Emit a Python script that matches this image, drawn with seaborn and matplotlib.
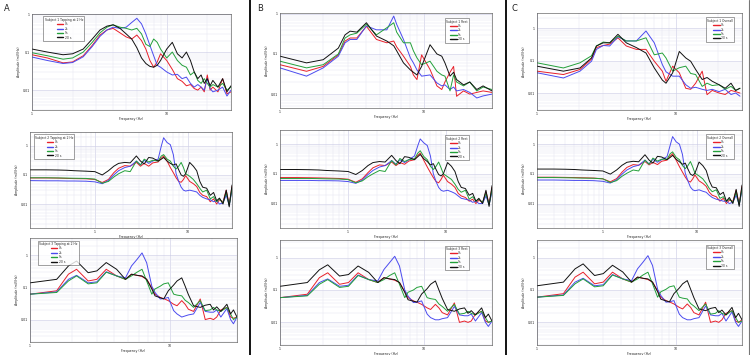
import matplotlib
matplotlib.use("Agg")
import matplotlib.pyplot as plt
import matplotlib.ticker as mticker
from matplotlib.lines import Line2D
import seaborn as sns

# frequency grids (Hz)
freq_a1 = [1, 1.3, 1.7, 2, 2.4, 2.8, 3.2, 3.6, 4, 4.5, 5, 5.5, 6, 6.5, 7, 7.5, 8, 8.5, 9, 10,
           11, 12, 13, 14, 15, 16, 17, 18, 19, 20, 21, 22, 24, 26, 28, 30]
freq_mid = [0.2, 0.3, 0.4, 0.5, 0.6, 0.8, 1.0, 1.2, 1.4, 1.6, 1.8, 2.1, 2.4, 2.8, 3.1, 3.4, 3.8,
            4.2, 4.8, 5.2, 5.5, 6.0, 6.5, 7.0, 7.5, 8.0, 8.5, 9.0, 9.5, 10.5, 11.5, 12.5, 13.5,
            14.5, 16, 17.5, 19, 20.5, 22, 24, 26, 28, 30]
freq_low = [1, 1.55, 1.88, 2.15, 2.6, 3.0, 3.5, 4.15, 4.8, 5.3, 5.8, 6.3, 6.8, 7.4, 7.8, 8.5,
            9.0, 9.7, 10.6, 11.2, 12.1, 12.8, 13.5, 14.7, 16.4, 17.8, 19.3, 20.4, 21.5, 23,
            25.4, 27, 28.3, 30]
freq_b1 = [1, 1.53, 2.0, 2.55, 2.84, 3.08, 3.43, 4.0, 4.7, 5.55, 6.2, 6.5, 7.25, 8.1, 8.5, 9.0,
           9.7, 11.1, 12.4, 13.4, 14.1, 15.3, 16.2, 17, 19, 21, 23.5, 26, 30]
freq_c1 = [1, 1.55, 2.04, 2.47, 2.68, 3.0, 3.34, 3.83, 4.4, 5.2, 6.1, 7.0, 8.0, 8.5, 9.5, 10.6,
           11.8, 12.8, 13.9, 15.5, 16.8, 18.3, 20.5, 22.7, 25, 27, 29]

# column A - tapping
a1_red = [0.085, 0.07, 0.052, 0.055, 0.08, 0.15, 0.28, 0.38, 0.42, 0.32, 0.25, 0.22, 0.28, 0.2, 0.12, 0.06, 0.04, 0.055, 0.09, 0.06,
          0.035, 0.02, 0.017, 0.013, 0.014, 0.011, 0.01, 0.012, 0.009, 0.025, 0.01, 0.012, 0.009, 0.02, 0.008, 0.009]
a1_blue = [0.074, 0.06, 0.05, 0.053, 0.075, 0.14, 0.26, 0.38, 0.45, 0.42, 0.45, 0.6, 0.77, 0.55, 0.3, 0.15, 0.08, 0.045, 0.04, 0.03,
           0.025, 0.026, 0.02, 0.022, 0.015, 0.012, 0.014, 0.012, 0.01, 0.02, 0.011, 0.009, 0.01, 0.012, 0.007, 0.01]
a1_green = [0.096, 0.08, 0.065, 0.07, 0.1, 0.18, 0.32, 0.45, 0.52, 0.45, 0.42, 0.38, 0.42, 0.3, 0.16, 0.14, 0.22, 0.18, 0.12, 0.07,
            0.1, 0.06, 0.045, 0.04, 0.025, 0.03, 0.018, 0.015, 0.02, 0.015, 0.012, 0.014, 0.012, 0.015, 0.01, 0.012]
a1_black = [0.12, 0.1, 0.085, 0.09, 0.12, 0.22, 0.38, 0.48, 0.52, 0.42, 0.3, 0.22, 0.13, 0.07, 0.05, 0.042, 0.04, 0.045, 0.06, 0.12,
            0.18, 0.09, 0.07, 0.1, 0.06, 0.03, 0.02, 0.025, 0.015, 0.02, 0.013, 0.018, 0.012, 0.02, 0.009, 0.013]

a2_red = [0.079, 0.079, 0.078, 0.076, 0.075, 0.074, 0.07, 0.055, 0.07, 0.12, 0.17, 0.21, 0.2, 0.27, 0.2, 0.25, 0.2, 0.26, 0.28, 0.38, 0.45,
          0.3, 0.18, 0.12, 0.08, 0.06, 0.056, 0.07, 0.095, 0.06, 0.05, 0.04, 0.025, 0.02, 0.018, 0.012, 0.015, 0.01, 0.014, 0.012, 0.03, 0.01, 0.04]
a2_blue = [0.064, 0.063, 0.063, 0.062, 0.062, 0.061, 0.058, 0.05, 0.065, 0.1, 0.14, 0.18, 0.2, 0.3, 0.22, 0.32, 0.25, 0.3, 0.35, 1.0, 1.9,
           1.3, 1.1, 0.5, 0.11, 0.06, 0.038, 0.03, 0.028, 0.03, 0.028, 0.026, 0.02, 0.017, 0.015, 0.014, 0.012, 0.013, 0.01, 0.011, 0.02, 0.009, 0.03]
a2_green = [0.08, 0.08, 0.079, 0.078, 0.077, 0.076, 0.072, 0.052, 0.06, 0.085, 0.11, 0.14, 0.13, 0.3, 0.22, 0.35, 0.28, 0.32, 0.3, 0.45, 0.5,
            0.35, 0.3, 0.2, 0.16, 0.2, 0.27, 0.18, 0.11, 0.09, 0.07, 0.05, 0.035, 0.026, 0.03, 0.015, 0.018, 0.012, 0.015, 0.011, 0.025, 0.009, 0.035]
a2_black = [0.15, 0.15, 0.148, 0.145, 0.14, 0.135, 0.13, 0.1, 0.14, 0.2, 0.25, 0.27, 0.26, 0.45, 0.3, 0.24, 0.4, 0.38, 0.3, 0.35, 0.4,
            0.3, 0.25, 0.22, 0.24, 0.15, 0.1, 0.09, 0.11, 0.27, 0.2, 0.14, 0.06, 0.038, 0.035, 0.02, 0.025, 0.013, 0.016, 0.01, 0.03, 0.008, 0.045]

a3_red = [0.062, 0.079, 0.26, 0.37, 0.16, 0.18, 0.37, 0.23, 0.18, 0.26, 0.24, 0.22, 0.18, 0.1, 0.062, 0.049, 0.045,
          0.039, 0.03, 0.027, 0.039, 0.03, 0.021, 0.018, 0.044, 0.01, 0.011, 0.01, 0.012, 0.02, 0.024, 0.012, 0.011, 0.012]
a3_blue = [0.062, 0.073, 0.18, 0.24, 0.14, 0.15, 0.31, 0.23, 0.2, 0.47, 0.75, 1.2, 0.59, 0.11, 0.07, 0.044, 0.045,
           0.049, 0.019, 0.015, 0.012, 0.013, 0.014, 0.015, 0.034, 0.018, 0.017, 0.017, 0.02, 0.012, 0.022, 0.01, 0.0074, 0.012]
a3_green = [0.062, 0.07, 0.16, 0.23, 0.13, 0.14, 0.3, 0.23, 0.18, 0.23, 0.3, 0.37, 0.16, 0.062, 0.09, 0.11, 0.13,
            0.14, 0.062, 0.058, 0.055, 0.04, 0.034, 0.024, 0.039, 0.019, 0.02, 0.024, 0.02, 0.018, 0.024, 0.015, 0.01, 0.012]
a3_black = [0.14, 0.18, 0.47, 0.67, 0.29, 0.33, 0.6, 0.37, 0.18, 0.26, 0.24, 0.23, 0.18, 0.09, 0.055, 0.048, 0.044,
            0.079, 0.12, 0.16, 0.2, 0.11, 0.06, 0.027, 0.024, 0.028, 0.03, 0.02, 0.025, 0.018, 0.03, 0.015, 0.02, 0.012]

# column B - rest
b1_red = [0.054, 0.037, 0.049, 0.095, 0.21, 0.25, 0.25, 0.49, 0.23, 0.19, 0.21, 0.15, 0.088, 0.049, 0.03,
          0.023, 0.095, 0.041, 0.016, 0.013, 0.02, 0.035, 0.049, 0.0088, 0.012, 0.01, 0.011, 0.012, 0.011]
b1_blue = [0.045, 0.028, 0.045, 0.088, 0.19, 0.23, 0.23, 0.5, 0.4, 0.4, 0.88, 0.55, 0.23, 0.08, 0.06,
           0.04, 0.028, 0.03, 0.019, 0.016, 0.017, 0.013, 0.015, 0.012, 0.013, 0.011, 0.008, 0.009, 0.01]
b1_green = [0.066, 0.045, 0.054, 0.1, 0.25, 0.3, 0.33, 0.55, 0.3, 0.45, 0.6, 0.35, 0.19, 0.19, 0.12,
            0.08, 0.054, 0.066, 0.037, 0.03, 0.028, 0.012, 0.03, 0.02, 0.016, 0.02, 0.012, 0.015, 0.013]
b1_black = [0.088, 0.06, 0.072, 0.14, 0.3, 0.37, 0.35, 0.6, 0.28, 0.21, 0.16, 0.12, 0.06, 0.04, 0.035,
            0.03, 0.049, 0.17, 0.1, 0.088, 0.06, 0.028, 0.035, 0.023, 0.017, 0.02, 0.013, 0.016, 0.012]

b2_red = [0.075, 0.075, 0.074, 0.073, 0.072, 0.07, 0.066, 0.052, 0.068, 0.11, 0.16, 0.2, 0.19, 0.25, 0.19, 0.24, 0.21, 0.27, 0.3, 0.42, 0.5,
          0.28, 0.17, 0.11, 0.075, 0.055, 0.05, 0.065, 0.09, 0.055, 0.045, 0.035, 0.022, 0.018, 0.016, 0.012, 0.014, 0.01, 0.013, 0.011, 0.025, 0.01, 0.035]
b2_blue = [0.06, 0.06, 0.06, 0.059, 0.059, 0.058, 0.055, 0.048, 0.062, 0.095, 0.13, 0.17, 0.19, 0.28, 0.21, 0.3, 0.24, 0.3, 0.4, 0.9, 1.5,
           1.1, 0.9, 0.4, 0.1, 0.055, 0.035, 0.028, 0.026, 0.028, 0.025, 0.022, 0.018, 0.015, 0.014, 0.013, 0.011, 0.012, 0.01, 0.01, 0.018, 0.009, 0.025]
b2_green = [0.07, 0.07, 0.07, 0.069, 0.068, 0.067, 0.064, 0.05, 0.058, 0.08, 0.1, 0.13, 0.12, 0.28, 0.2, 0.33, 0.26, 0.3, 0.32, 0.5, 0.6,
            0.38, 0.3, 0.18, 0.14, 0.18, 0.25, 0.16, 0.1, 0.08, 0.065, 0.045, 0.03, 0.024, 0.028, 0.014, 0.017, 0.012, 0.014, 0.011, 0.022, 0.009, 0.03]
b2_black = [0.14, 0.14, 0.138, 0.135, 0.13, 0.125, 0.12, 0.095, 0.13, 0.19, 0.24, 0.26, 0.25, 0.42, 0.28, 0.22, 0.38, 0.36, 0.3, 0.38, 0.45,
            0.32, 0.26, 0.2, 0.22, 0.14, 0.095, 0.085, 0.1, 0.24, 0.18, 0.12, 0.055, 0.035, 0.032, 0.019, 0.022, 0.012, 0.015, 0.01, 0.028, 0.008, 0.04]

b3_red = [0.058, 0.074, 0.24, 0.34, 0.15, 0.17, 0.34, 0.21, 0.17, 0.24, 0.22, 0.2, 0.17, 0.09, 0.058, 0.046, 0.042,
          0.036, 0.028, 0.025, 0.036, 0.028, 0.02, 0.017, 0.04, 0.01, 0.011, 0.01, 0.011, 0.018, 0.022, 0.011, 0.01, 0.011]
b3_blue = [0.058, 0.068, 0.17, 0.22, 0.13, 0.14, 0.29, 0.21, 0.19, 0.43, 0.7, 1.1, 0.55, 0.1, 0.065, 0.041, 0.042,
           0.046, 0.018, 0.014, 0.012, 0.012, 0.013, 0.014, 0.031, 0.017, 0.016, 0.016, 0.018, 0.011, 0.02, 0.01, 0.0075, 0.011]
b3_green = [0.058, 0.066, 0.15, 0.21, 0.12, 0.13, 0.28, 0.21, 0.17, 0.21, 0.28, 0.34, 0.15, 0.058, 0.085, 0.1, 0.12,
            0.13, 0.058, 0.054, 0.051, 0.037, 0.031, 0.022, 0.036, 0.018, 0.019, 0.022, 0.019, 0.017, 0.022, 0.014, 0.01, 0.011]
b3_black = [0.13, 0.17, 0.42, 0.6, 0.27, 0.3, 0.55, 0.35, 0.17, 0.24, 0.22, 0.21, 0.17, 0.085, 0.05, 0.045, 0.042,
            0.075, 0.11, 0.15, 0.19, 0.1, 0.055, 0.025, 0.022, 0.026, 0.028, 0.019, 0.023, 0.017, 0.028, 0.014, 0.018, 0.011]

# column C - overall
c1_red = [0.047, 0.037, 0.053, 0.11, 0.25, 0.29, 0.32, 0.5, 0.28, 0.22, 0.22, 0.095, 0.047, 0.023,
          0.067, 0.042, 0.014, 0.013, 0.02, 0.047, 0.0089, 0.012, 0.01, 0.009, 0.012, 0.011, 0.01]
c1_blue = [0.042, 0.029, 0.047, 0.095, 0.22, 0.29, 0.28, 0.54, 0.4, 0.4, 0.81, 0.35, 0.075, 0.045,
           0.033, 0.033, 0.018, 0.014, 0.015, 0.013, 0.012, 0.013, 0.011, 0.013, 0.009, 0.01, 0.008]
c1_green = [0.085, 0.059, 0.085, 0.14, 0.28, 0.37, 0.35, 0.56, 0.4, 0.4, 0.5, 0.15, 0.17, 0.12,
            0.047, 0.06, 0.067, 0.04, 0.037, 0.016, 0.02, 0.017, 0.018, 0.013, 0.016, 0.012, 0.014]
c1_black = [0.067, 0.047, 0.059, 0.12, 0.28, 0.35, 0.35, 0.64, 0.35, 0.25, 0.17, 0.059, 0.025, 0.02,
            0.042, 0.19, 0.12, 0.095, 0.053, 0.026, 0.03, 0.023, 0.018, 0.014, 0.02, 0.012, 0.014]

c2_red = [0.077, 0.077, 0.076, 0.075, 0.074, 0.072, 0.068, 0.054, 0.069, 0.115, 0.165, 0.205, 0.195, 0.26, 0.2, 0.245, 0.205, 0.265, 0.29, 0.4, 0.48,
          0.29, 0.175, 0.115, 0.078, 0.058, 0.053, 0.068, 0.092, 0.058, 0.048, 0.038, 0.024, 0.019, 0.017, 0.012, 0.015, 0.01, 0.013, 0.012, 0.028, 0.01, 0.038]
c2_blue = [0.062, 0.062, 0.061, 0.06, 0.06, 0.059, 0.056, 0.049, 0.063, 0.098, 0.135, 0.175, 0.195, 0.29, 0.215, 0.31, 0.245, 0.3, 0.38, 0.95, 1.8,
           1.2, 1.0, 0.45, 0.105, 0.058, 0.036, 0.029, 0.027, 0.029, 0.026, 0.024, 0.019, 0.016, 0.014, 0.013, 0.012, 0.012, 0.01, 0.011, 0.019, 0.009, 0.028]
c2_green = [0.075, 0.075, 0.074, 0.073, 0.072, 0.071, 0.068, 0.051, 0.059, 0.083, 0.105, 0.135, 0.125, 0.29, 0.21, 0.34, 0.27, 0.31, 0.31, 0.48, 0.55,
            0.36, 0.3, 0.19, 0.15, 0.19, 0.26, 0.17, 0.105, 0.085, 0.068, 0.048, 0.032, 0.025, 0.029, 0.015, 0.017, 0.012, 0.014, 0.011, 0.024, 0.009, 0.032]
c2_black = [0.145, 0.145, 0.143, 0.14, 0.135, 0.13, 0.125, 0.098, 0.135, 0.195, 0.245, 0.265, 0.255, 0.44, 0.29, 0.23, 0.39, 0.37, 0.3, 0.36, 0.42,
            0.31, 0.255, 0.21, 0.23, 0.145, 0.098, 0.088, 0.105, 0.25, 0.19, 0.13, 0.058, 0.036, 0.034, 0.02, 0.024, 0.012, 0.016, 0.01, 0.03, 0.008, 0.042]

c3_red = [0.06, 0.077, 0.25, 0.355, 0.155, 0.175, 0.355, 0.22, 0.175, 0.25, 0.23, 0.21, 0.175, 0.095, 0.06, 0.047, 0.043,
          0.037, 0.029, 0.026, 0.037, 0.029, 0.02, 0.017, 0.042, 0.01, 0.011, 0.01, 0.012, 0.019, 0.023, 0.011, 0.01, 0.012]
c3_blue = [0.06, 0.07, 0.175, 0.23, 0.135, 0.145, 0.3, 0.22, 0.195, 0.45, 0.72, 1.15, 0.57, 0.105, 0.068, 0.042, 0.043,
           0.047, 0.018, 0.014, 0.012, 0.012, 0.013, 0.014, 0.032, 0.017, 0.016, 0.016, 0.019, 0.011, 0.021, 0.01, 0.0075, 0.011]
c3_green = [0.06, 0.068, 0.155, 0.22, 0.125, 0.135, 0.29, 0.22, 0.175, 0.22, 0.29, 0.355, 0.155, 0.06, 0.088, 0.105, 0.125,
            0.135, 0.06, 0.056, 0.053, 0.038, 0.032, 0.023, 0.037, 0.018, 0.019, 0.023, 0.019, 0.017, 0.023, 0.014, 0.01, 0.011]
c3_black = [0.135, 0.175, 0.45, 0.64, 0.28, 0.32, 0.58, 0.36, 0.175, 0.25, 0.23, 0.22, 0.175, 0.088, 0.052, 0.046, 0.043,
            0.077, 0.115, 0.155, 0.195, 0.105, 0.058, 0.026, 0.023, 0.027, 0.029, 0.02, 0.024, 0.017, 0.029, 0.014, 0.019, 0.012]

series_labels = ["0s", "2s", "5s", "20 s"]
series_colors = ["#e8202a", "#4b4bef", "#23a03a", "#111111"]

sns.set_style("white")
plt.rcParams['font.family'] = ['DejaVu Sans']

fig = plt.figure(figsize=(7.5, 3.55), dpi=100)

W, H = 750.0, 355.0


def make_ax(x0, y0, x1, y1):
    return fig.add_axes([x0 / W, 1 - y1 / H, (x1 - x0) / W, (y1 - y0) / H])


def fmt(v, pos):
    if v >= 1:
        return "%d" % round(v)
    return ("%.3f" % v).rstrip("0")


def draw(ax, freq, lines, title, xlim, ylim, legend_loc, legend_anchor):
    for vals, lab, col in zip(lines, series_labels, series_colors):
        sns.lineplot(x=freq, y=vals, ax=ax, color=col, lw=0.7, label=lab)
    ax.set_xscale("log")
    ax.set_yscale("log")
    ax.set_xlim(*xlim)
    ax.set_ylim(*ylim)
    ax.xaxis.set_major_locator(mticker.LogLocator(base=10))
    ax.yaxis.set_major_locator(mticker.LogLocator(base=10))
    ax.xaxis.set_minor_locator(mticker.LogLocator(base=10, subs=range(2, 10)))
    ax.yaxis.set_minor_locator(mticker.LogLocator(base=10, subs=range(2, 10)))
    ax.xaxis.set_major_formatter(mticker.FuncFormatter(fmt))
    ax.yaxis.set_major_formatter(mticker.FuncFormatter(fmt))
    ax.xaxis.set_minor_formatter(mticker.NullFormatter())
    ax.yaxis.set_minor_formatter(mticker.NullFormatter())
    ax.grid(True, which="major", color="#c9c9e4", lw=0.4)
    ax.grid(True, which="minor", color="#e2e2f0", lw=0.3)
    ax.tick_params(which="both", direction="in", labelsize=2.3, length=1.5, width=0.3, pad=1.5)
    ax.tick_params(which="minor", length=1)
    for s in ax.spines.values():
        s.set_linewidth(0.4)
        s.set_color("#444444")
    ax.set_xlabel("Frequency (Hz)", fontsize=2.3, labelpad=1)
    ax.set_ylabel("Amplitude (mV/Hz)", fontsize=2.3, labelpad=1)
    leg = ax.legend(title=title, loc=legend_loc, bbox_to_anchor=legend_anchor, fontsize=2.2,
                    title_fontsize=2.2, frameon=True, fancybox=False, edgecolor="#333333",
                    handlelength=2.2, borderpad=0.4, labelspacing=0.15, handletextpad=0.5)
    leg.get_frame().set_linewidth(0.4)
    for h in leg.get_lines():
        h.set_linewidth(1.0)


# column A
ax = make_ax(32, 14, 231, 110)
draw(ax, freq_a1, [a1_red, a1_blue, a1_green, a1_black], "Subject 1 Tapping at 2 Hz",
     (1, 30), (0.003, 1), "upper left", (0.05, 0.99))
ax = make_ax(30, 132, 232, 228)
draw(ax, freq_mid, [a2_red, a2_blue, a2_green, a2_black], "Subject 2 Tapping at 2 Hz",
     (0.2, 30), (0.0015, 3), "upper left", (0.01, 0.99))
ax = make_ax(30, 238, 237, 342)
draw(ax, freq_low, [a3_red, a3_blue, a3_green, a3_black], "Subject 3 Tapping at 2 Hz",
     (1, 30), (0.002, 3.5), "upper left", (0.03, 0.99))

# column B
ax = make_ax(280, 13, 492, 108)
draw(ax, freq_b1, [b1_red, b1_blue, b1_green, b1_black], "Subject 1 Rest",
     (1, 30), (0.0045, 1.05), "upper right", (0.9, 0.96))
ax = make_ax(280, 130, 492, 228)
draw(ax, freq_mid, [b2_red, b2_blue, b2_green, b2_black], "Subject 2 Rest",
     (0.2, 30), (0.0015, 3), "upper right", (0.9, 0.96))
ax = make_ax(280, 240, 492, 345)
draw(ax, freq_low, [b3_red, b3_blue, b3_green, b3_black], "Subject 3 Rest",
     (1, 30), (0.002, 3.5), "upper right", (0.9, 0.96))

# column C
ax = make_ax(537, 13, 742, 110)
draw(ax, freq_c1, [c1_red, c1_blue, c1_green, c1_black], "Subject 1 Overall",
     (1, 30), (0.003, 2.9), "upper right", (0.97, 0.97))
ax = make_ax(537, 130, 742, 228)
draw(ax, freq_mid, [c2_red, c2_blue, c2_green, c2_black], "Subject 2 Overall",
     (0.2, 30), (0.0015, 3), "upper right", (0.97, 0.97))
ax = make_ax(537, 240, 742, 345)
draw(ax, freq_low, [c3_red, c3_blue, c3_green, c3_black], "Subject 3 Overall",
     (1, 30), (0.002, 3.5), "upper right", (0.97, 0.97))

# panel letters and separators
for xp, letter in [(4, "A"), (257, "B"), (512, "C")]:
    fig.text(xp / W, 1 - 11 / H, letter, fontsize=6, color="#222222")
for xp in [250, 506]:
    fig.add_artist(Line2D([xp / W, xp / W], [0, 1], transform=fig.transFigure, color="black", lw=1.3))
fig.add_artist(Line2D([749 / W, 749 / W], [0, 1], transform=fig.transFigure, color="#777777", lw=0.8))

fig.savefig("out.png", dpi=100)
